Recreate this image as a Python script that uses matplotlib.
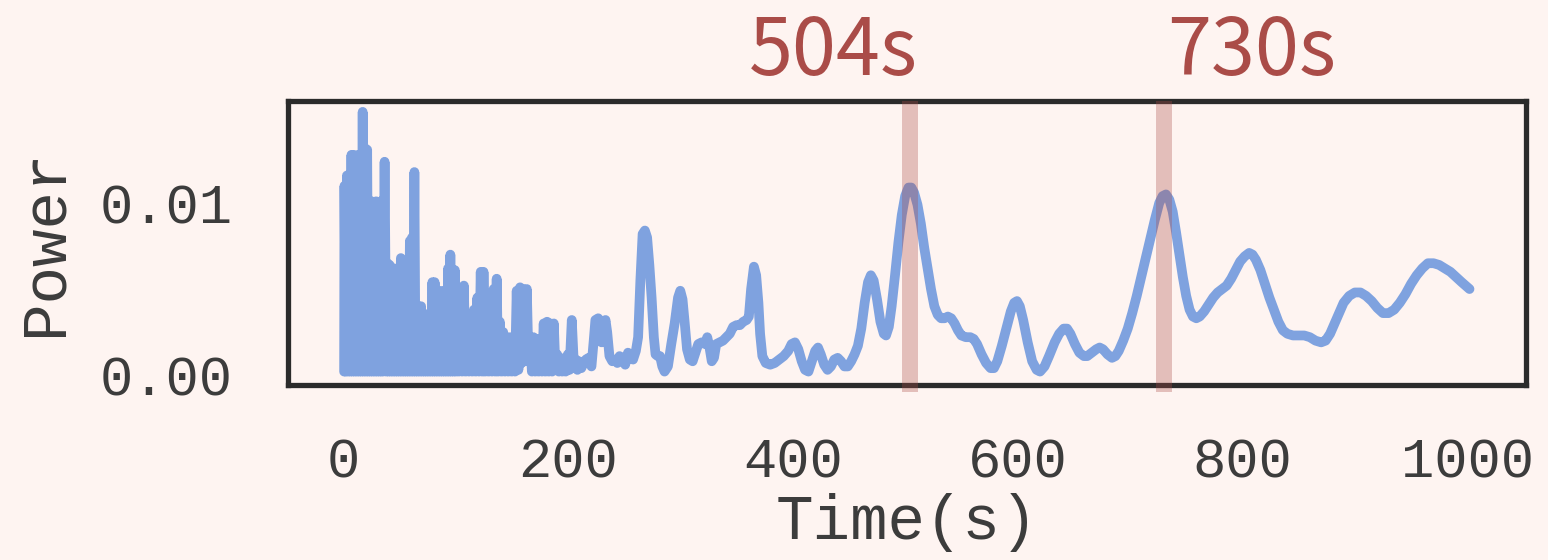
import matplotlib
matplotlib.use("Agg")
import matplotlib.pyplot as plt

# ---- data ----
period_dense = [1.0, 1.3, 2.5, 3.5, 4.5, 5.5, 6.5, 7.5, 8.5, 9.5, 10.5, 11.5, 12.5, 13.5, 14.5,
                15.5, 16.5, 17.5, 18.5, 19.5, 20.5, 21.5, 22.5, 23.5, 24.5, 25.5, 26.5, 27.5,
                28.5, 29.5, 30.5, 31.5, 32.5, 33.5, 34.5, 35.5, 37.0, 38.5, 39.5, 40.5, 41.5,
                42.5, 43.5, 44.5, 45.5, 46.5, 47.5, 48.5, 49.5, 50.5, 51.5, 52.5, 53.5, 54.5,
                55.5, 56.5, 57.5, 58.5, 59.5, 60.5, 61.5, 62.5, 63.5, 64.5, 65.5, 66.5, 67.5,
                68.5, 69.5, 70.5, 71.5, 72.5, 73.5, 74.5, 75.5, 76.5, 77.5, 78.5, 79.5, 80.5,
                81.5, 82.5, 83.5, 84.5, 85.5, 86.5, 87.5, 88.5, 89.5, 90.5, 91.5, 92.5, 93.5,
                94.5, 95.5, 96.5, 97.5, 98.5, 99.5, 100.5, 101.5, 103.0, 104.5, 106.0, 107.5,
                109.0, 110.5, 112.0, 113.5, 115.0, 116.5, 118.0, 119.5, 121.0, 122.5, 124.0,
                125.0, 126.5, 128.0, 129.5, 131.0, 132.5, 134.0, 135.5, 136.7, 138.0, 139.5,
                141.0, 142.5, 144.0, 145.5, 147.0, 148.5, 150.0, 151.5, 153.0, 154.5, 156.0,
                157.5, 159.0, 160.5, 162.0, 163.5, 165.0, 166.5, 168.0, 169.5, 171.0, 172.5,
                174.0, 175.5, 177.0, 178.5, 180.0, 181.5, 183.0, 184.5, 186.0, 187.5, 189.0,
                190.5, 192.0, 193.5, 195.0, 196.5, 198.0, 200.0, 201.5, 203.5, 205.5, 207.0,
                208.5, 210.0, 212.0, 214.0]
power_dense = [0.0002, 0.0110, 0.0002, 0.0116, 0.0002, 0.0116, 0.0002, 0.0128, 0.0002, 0.0128,
               0.0002, 0.0127, 0.0002, 0.0128, 0.0002, 0.0127, 0.0002, 0.0153, 0.0002, 0.0132,
               0.0002, 0.0131, 0.0002, 0.0101, 0.0002, 0.0101, 0.0002, 0.0100, 0.0002, 0.0101,
               0.0002, 0.0100, 0.0002, 0.0101, 0.0002, 0.0002, 0.0124, 0.0002, 0.0065, 0.0002,
               0.0064, 0.0002, 0.0062, 0.0002, 0.0062, 0.0002, 0.0058, 0.0002, 0.0055, 0.0002,
               0.0068, 0.0002, 0.0066, 0.0002, 0.0044, 0.0002, 0.0044, 0.0002, 0.0078, 0.0002,
               0.0080, 0.0002, 0.0118, 0.0002, 0.0040, 0.0002, 0.0040, 0.0002, 0.0040, 0.0002,
               0.0036, 0.0002, 0.0031, 0.0002, 0.0031, 0.0002, 0.0030, 0.0002, 0.0054, 0.0002,
               0.0054, 0.0002, 0.0048, 0.0002, 0.0049, 0.0002, 0.0048, 0.0002, 0.0049, 0.0002,
               0.0048, 0.0002, 0.0062, 0.0002, 0.0070, 0.0002, 0.0061, 0.0002, 0.0061, 0.0002,
               0.0042, 0.0002, 0.0042, 0.0002, 0.0052, 0.0002, 0.0030, 0.0002, 0.0028, 0.0002,
               0.0038, 0.0002, 0.0045, 0.0002, 0.0060, 0.0002, 0.0060, 0.0002, 0.0041, 0.0002,
               0.0041, 0.0002, 0.0050, 0.0002, 0.0056, 0.0002, 0.0031, 0.0002, 0.0025, 0.0002,
               0.0022, 0.0002, 0.0022, 0.0002, 0.0022, 0.0002, 0.0049, 0.0003, 0.0051, 0.0007,
               0.0050, 0.0008, 0.0050, 0.0008, 0.0022, 0.0002, 0.0022, 0.0002, 0.0021, 0.0002,
               0.0018, 0.0002, 0.0030, 0.0002, 0.0031, 0.0002, 0.0030, 0.0002, 0.0030, 0.0003,
               0.0012, 0.0002, 0.0010, 0.0002, 0.0009, 0.0002, 0.0012, 0.0003, 0.0032, 0.0004,
               0.0009, 0.0003, 0.0008, 0.0004, 0.0007]

period_smooth = [216, 218.5, 221, 223, 224.5, 227, 228.5, 230, 231.5, 233.5, 235, 237, 239.5,
                 242, 244, 246, 248.5, 251, 253.5, 256, 258, 260.5, 262.5, 264.5, 266.5, 268.5,
                 270.5, 272.5, 274.5, 276.5, 278, 280, 282, 284, 286, 289, 292, 295, 298, 300,
                 302, 304, 306, 308.5, 311, 313, 316, 319, 322, 324, 326, 328, 330, 332, 335,
                 338, 341, 344, 347, 350, 353, 356, 359, 361, 363, 365.5, 367.5, 369.5, 371,
                 373, 376, 380, 384, 388, 392, 396, 399, 402, 405, 408, 411, 414, 417, 420,
                 422.5, 425, 428, 431, 434, 437, 440, 443, 446, 449, 452, 455, 458, 461, 464,
                 467, 469.5, 472, 475, 478, 481, 483, 485.5, 488, 491, 494, 497, 500, 503,
                 505.5, 508, 511, 514, 517, 520, 523, 526, 529, 532, 535, 538, 541, 544, 547,
                 550, 554, 558, 561, 564, 568, 572, 576, 579, 582, 586, 590, 594, 597, 599.5,
                 602, 605, 609, 613, 617, 620, 624, 628, 633, 637, 641, 644, 647, 651, 655,
                 659, 662, 666, 670, 673, 676, 680, 684, 687, 690, 694, 698, 702, 706, 710,
                 714, 718, 722, 726, 729, 732, 735, 738, 741, 744, 747, 750, 753, 756, 759,
                 762, 766, 770, 774, 778, 782, 786, 790, 794, 798, 802, 806, 809, 812, 816,
                 820, 824, 828, 832, 836, 840, 845, 850, 855, 860, 865, 870, 874, 878, 882,
                 886, 890, 895, 900, 905, 910, 915, 920, 925, 930, 935, 940, 945, 950, 955,
                 960, 965, 970, 975, 980, 985, 990, 995, 1002]
power_smooth = [0.0009, 0.0010, 0.0005, 0.0020, 0.0032, 0.0033, 0.0028, 0.0019, 0.0025, 0.0032,
                0.0025, 0.0011, 0.0008, 0.0009, 0.0007, 0.0011, 0.0010, 0.0006, 0.0013, 0.0010,
                0.0009, 0.0014, 0.0022, 0.0055, 0.0082, 0.0084, 0.0080, 0.0064, 0.0045, 0.0022,
                0.0012, 0.0011, 0.0011, 0.0005, 0.0002, 0.0005, 0.0018, 0.0030, 0.0045, 0.0049,
                0.0044, 0.0030, 0.0015, 0.0009, 0.0008, 0.0012, 0.0018, 0.0019, 0.0018, 0.0022,
                0.0016, 0.0008, 0.0010, 0.0018, 0.0019, 0.0020, 0.0022, 0.0024, 0.0028, 0.0029,
                0.0029, 0.0031, 0.0032, 0.0034, 0.0050, 0.0063, 0.0058, 0.0042, 0.0024, 0.0011,
                0.0007, 0.0006, 0.0007, 0.0009, 0.0011, 0.0014, 0.0018, 0.0019, 0.0015, 0.0008,
                0.0003, 0.0002, 0.0008, 0.0014, 0.0016, 0.0012, 0.0006, 0.0003, 0.0005, 0.0009,
                0.0010, 0.0008, 0.0005, 0.0005, 0.0008, 0.0012, 0.0017, 0.0027, 0.0042, 0.0054,
                0.0058, 0.0055, 0.0044, 0.0031, 0.0024, 0.0023, 0.0028, 0.0040, 0.0058, 0.0077,
                0.0093, 0.0104, 0.0109, 0.0109, 0.0106, 0.0099, 0.0088, 0.0074, 0.0062, 0.0050,
                0.0040, 0.0035, 0.0033, 0.0033, 0.0034, 0.0033, 0.0030, 0.0026, 0.0023, 0.0022,
                0.0022, 0.0021, 0.0018, 0.0012, 0.0007, 0.0004, 0.0004, 0.0008, 0.0017, 0.0027,
                0.0037, 0.0042, 0.0043, 0.0040, 0.0032, 0.0019, 0.0008, 0.0003, 0.0002, 0.0005,
                0.0011, 0.0019, 0.0024, 0.0027, 0.0027, 0.0024, 0.0018, 0.0013, 0.0011, 0.0011,
                0.0013, 0.0015, 0.0016, 0.0015, 0.0012, 0.0010, 0.0011, 0.0014, 0.0020, 0.0027,
                0.0036, 0.0046, 0.0057, 0.0068, 0.0079, 0.0090, 0.0100, 0.0104, 0.0105, 0.0102,
                0.0095, 0.0083, 0.0070, 0.0057, 0.0046, 0.0038, 0.0034, 0.0033, 0.0034, 0.0037,
                0.0041, 0.0045, 0.0048, 0.0050, 0.0052, 0.0056, 0.0061, 0.0066, 0.0069, 0.0071,
                0.0070, 0.0067, 0.0061, 0.0053, 0.0045, 0.0038, 0.0031, 0.0026, 0.0024, 0.0023,
                0.0023, 0.0023, 0.0022, 0.0020, 0.0019, 0.0020, 0.0024, 0.0030, 0.0036, 0.0042,
                0.0046, 0.0048, 0.0048, 0.0046, 0.0043, 0.0039, 0.0036, 0.0036, 0.0038, 0.0042,
                0.0047, 0.0053, 0.0058, 0.0062, 0.0065, 0.0065, 0.0064, 0.0062, 0.0060, 0.0057,
                0.0054, 0.0050]

highlight_periods = [504, 730]
highlight_labels = ["504s", "730s"]
label_x = [436, 808]

x_ticks = [0, 200, 400, 600, 800, 1000]
y_ticks = [0.00, 0.01]
y_tick_labels = ["0.00", "0.01"]

# ---- styling ----
BG = "#FEF4F1"
LINE = "#7FA2DF"
ACCENT = "#AA4C48"
DARK = "#2B2B2B"
TXT = "#3C3C3C"
MONO = ["Liberation Mono", "DejaVu Sans Mono"]

W, H = 1548, 560
fig = plt.figure(figsize=(W / 100, H / 100), dpi=100, facecolor=BG)
ax = fig.add_axes([288.3 / W, 1 - 384.5 / H, (1525.5 - 288.3) / W, (384.5 - 100.5) / H])
ax.set_facecolor(BG)

ax.plot(period_dense + period_smooth, power_dense + power_smooth, color=LINE, lw=7.0,
        solid_joinstyle="round", solid_capstyle="round", zorder=2)

for p in highlight_periods:
    ax.axvline(p, ymin=-0.027, ymax=1.0, color=ACCENT, alpha=0.32, lw=11.5,
               solid_capstyle="butt", clip_on=False, zorder=5)

for lx, txt in zip(label_x, highlight_labels):
    ax.text(lx, 1.09, txt, transform=ax.get_xaxis_transform(), ha="center", va="baseline",
            fontsize=57, color=ACCENT, family=["Noto Sans CJK SC", "DejaVu Sans"],
            fontweight="normal")

ax.set_xlim(-48.65, 1051.8)
ax.set_ylim(-0.00055, 0.01596)
ax.set_xticks(x_ticks)
ax.set_xticklabels([str(t) for t in x_ticks])
ax.set_yticks(y_ticks)
ax.set_yticklabels(y_tick_labels)

for s in ax.spines.values():
    s.set_linewidth(3.8)
    s.set_color(DARK)
    s.set_zorder(4)

ax.tick_params(axis="both", length=0, labelsize=40, labelcolor=TXT)
ax.tick_params(axis="x", pad=38)
ax.tick_params(axis="y", pad=40)
for lab in ax.get_xticklabels() + ax.get_yticklabels():
    lab.set_family(MONO)

ax.set_xlabel("Time(s)", fontsize=45, family=MONO, color=TXT, labelpad=3)
ax.set_ylabel("Power", fontsize=45, family=MONO, color=TXT, labelpad=18)

fig.savefig("out.png", dpi=100, facecolor=BG)
